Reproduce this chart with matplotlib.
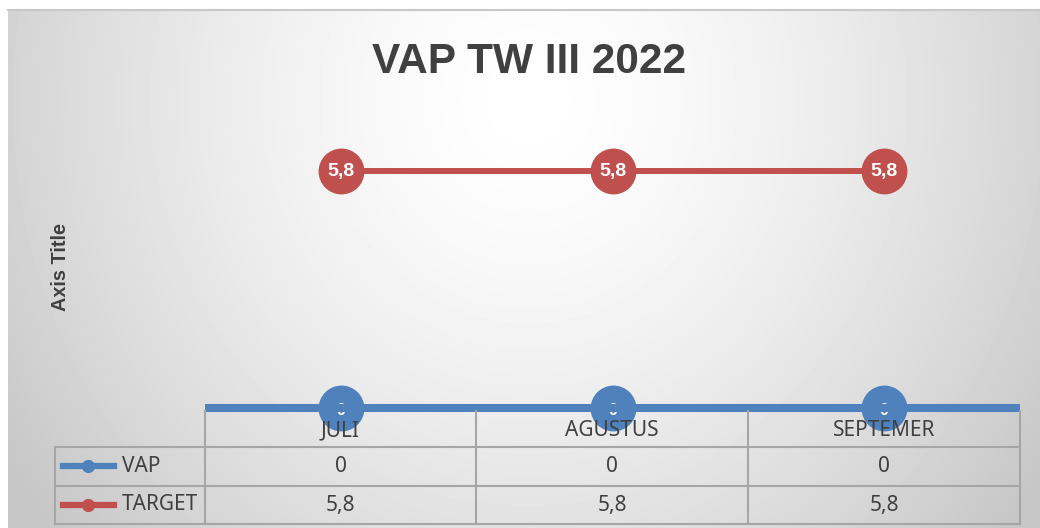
import numpy as np
import matplotlib.pyplot as plt
from matplotlib.lines import Line2D

# data
categories = ['JULI', 'AGUSTUS', 'SEPTEMER']
vap = [0, 0, 0]
target = [5.8, 5.8, 5.8]
vap_labels = ['0', '0', '0']
target_labels = ['5,8', '5,8', '5,8']

W, H = 1040, 528
BLUE = '#4f81bd'
RED = '#c0504d'
GRID = '#a6a6a6'
TXT = '#404040'
FONT = ['Noto Sans', 'DejaVu Sans']
BOLD = ['Liberation Sans', 'DejaVu Sans']

fig = plt.figure(figsize=(W / 100, H / 100), dpi=100)
fig.patch.set_facecolor('white')

def fx(px):
    return px / W

def fy(py):
    return 1 - py / H

# background: radial-ish gradient like the Excel chart area
bg = fig.add_axes([fx(8), 0, fx(1040 - 8), fy(10)])
bg.set_axis_off()
yy, xx = np.mgrid[0:518, 0:1032]
d = np.sqrt(((xx - 520) / 560.0) ** 2 + ((yy - 90) / 600.0) ** 2)
v = np.clip(1.0 - 0.19 * d ** 1.5, 0.78, 1.0)
bg.imshow(v, cmap='gray', vmin=0, vmax=1, aspect='auto', interpolation='bilinear')
fig.add_artist(Line2D([fx(8), 1], [fy(10), fy(10)], color='#c8c8c8', lw=1.5))

# plot area
ax = fig.add_axes([fx(205), fy(408), fx(1020 - 205), fy(122) - fy(408)])
ax.patch.set_alpha(0)
x = np.arange(len(categories)) + 0.5
ax.plot(x, target, color=RED, lw=4.3, marker='o', ms=32, zorder=3, clip_on=False)
ax.plot(x, vap, color=BLUE, lw=5, marker='o', ms=32, zorder=3, clip_on=False)
for xi, yi, s in zip(x, target, target_labels):
    ax.text(xi, yi, s, color='white', ha='center', va='center', fontsize=14,
            fontweight='bold', family=BOLD, zorder=4)
for xi, yi, s in zip(x, vap, vap_labels):
    ax.text(xi, yi - 0.05, s, color='white', ha='center', va='center', fontsize=11.5,
            fontweight='bold', family=BOLD, zorder=3.2)
# category axis line drawn on top of the zero series
ax.axhline(0, color=BLUE, lw=5.8, solid_capstyle='butt', zorder=3.5, clip_on=False)
ax.set_xlim(0, 3)
ax.set_ylim(0, 7)
ax.set_xticks([])
ax.set_yticks([])
for side in ax.spines:
    ax.spines[side].set_visible(False)

# title and axis title
fig.text(fx(529), fy(62), 'VAP TW III 2022', ha='center', va='center', fontsize=30.5,
         fontweight='bold', color=TXT, family=BOLD)
fig.text(fx(60), fy(267), 'Axis Title', ha='center', va='center', rotation=90,
         fontsize=14.3, fontweight='bold', color=TXT, family=BOLD)

# data table
col_x = [205, 476, 748, 1020]
row_y = [408, 447, 486, 524]
def hline(x0, x1, y):
    fig.add_artist(Line2D([fx(x0), fx(x1)], [fy(y), fy(y)], color=GRID, lw=1.5))

def vline(xp, y0, y1):
    fig.add_artist(Line2D([fx(xp), fx(xp)], [fy(y0), fy(y1)], color=GRID, lw=1.5))

for cx in col_x:
    vline(cx, row_y[0] + 3, row_y[-1])
vline(55, row_y[1], row_y[-1])
for ry in row_y[1:]:
    hline(55, 1020, ry)

centers = [(col_x[i] + col_x[i + 1]) / 2 for i in range(3)]
TS = 15
for c, s in zip(centers, categories):
    fig.text(fx(c), fy(431), s, ha='center', va='center', fontsize=TS, color=TXT, family=FONT)
for c, s in zip(centers, vap):
    fig.text(fx(c), fy(466), str(s), ha='center', va='center', fontsize=TS, color=TXT, family=FONT)
for c, s in zip(centers, target_labels):
    fig.text(fx(c), fy(505), s, ha='center', va='center', fontsize=TS, color=TXT, family=FONT)

# legend keys in the table
for ry, col, name in [(466, BLUE, 'VAP'), (505, RED, 'TARGET')]:
    fig.add_artist(Line2D([fx(63), fx(114)], [fy(ry), fy(ry)], color=col, lw=4.5))
    fig.add_artist(Line2D([fx(88)], [fy(ry)], color=col, marker='o', ms=8.5, lw=0))
    fig.text(fx(122), fy(ry), name, ha='left', va='center', fontsize=TS, color=TXT, family=FONT)

fig.savefig('out.png', dpi=100)
